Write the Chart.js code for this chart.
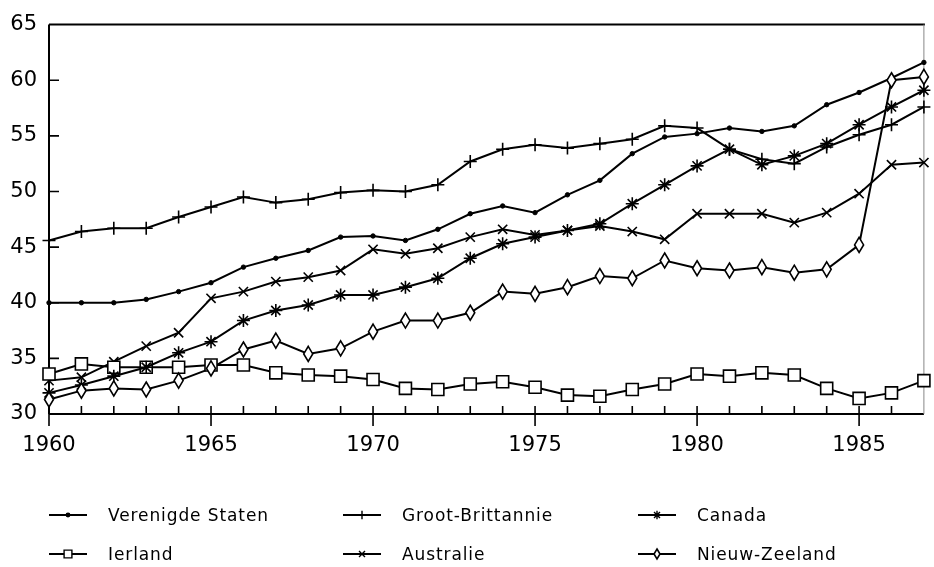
<!DOCTYPE html>
<html>
<head>
<meta charset="utf-8">
<script src="https://cdn.jsdelivr.net/npm/chart.js@4.4.1/dist/chart.umd.min.js"></script>
<style>
  html, body { margin: 0; padding: 0; background: #fff; }
  #wrap { width: 934px; height: 567px; }
</style>
</head>
<body>
<div id="wrap"><canvas id="chart"></canvas></div>
<script>
// jaren en reeksen
const years = [1960, 1961, 1962, 1963, 1964, 1965, 1966, 1967, 1968, 1969,
  1970, 1971, 1972, 1973, 1974, 1975, 1976, 1977, 1978, 1979,
  1980, 1981, 1982, 1983, 1984, 1985, 1986, 1987];

const verenigdeStaten = [40.0, 40.0, 40.0, 40.3, 41.0, 41.8, 43.2, 44.0, 44.7, 45.9,
  46.0, 45.6, 46.6, 48.0, 48.7, 48.1, 49.7, 51.0, 53.4, 54.9,
  55.2, 55.7, 55.4, 55.9, 57.8, 58.9, 60.2, 61.6];
const grootBrittannie = [45.6, 46.4, 46.7, 46.7, 47.7, 48.6, 49.5, 49.0, 49.3, 49.9,
  50.1, 50.0, 50.6, 52.7, 53.8, 54.2, 53.9, 54.3, 54.7, 55.9,
  55.7, 53.8, 52.9, 52.5, 54.0, 55.1, 56.0, 57.6];
const canada = [31.9, 32.6, 33.4, 34.2, 35.5, 36.5, 38.4, 39.3, 39.8, 40.7,
  40.7, 41.4, 42.2, 44.0, 45.3, 45.9, 46.5, 47.1, 48.9, 50.6,
  52.3, 53.8, 52.4, 53.2, 54.3, 56.0, 57.6, 59.1];
const ierland = [33.6, 34.5, 34.2, 34.2, 34.2, 34.4, 34.4, 33.7, 33.5, 33.4,
  33.1, 32.3, 32.2, 32.7, 32.9, 32.4, 31.7, 31.6, 32.2, 32.7,
  33.6, 33.4, 33.7, 33.5, 32.3, 31.4, 31.9, 33.0];
const australie = [33.0, 33.3, 34.7, 36.1, 37.3, 40.4, 41.0, 41.9, 42.3, 42.9,
  44.8, 44.4, 44.9, 45.9, 46.6, 46.1, 46.5, 46.9, 46.4, 45.7,
  48.0, 48.0, 48.0, 47.2, 48.1, 49.8, 52.4, 52.6];
const nieuwZeeland = [31.3, 32.1, 32.3, 32.2, 33.0, 34.1, 35.8, 36.6, 35.4, 35.9,
  37.4, 38.4, 38.4, 39.1, 41.0, 40.8, 41.4, 42.4, 42.2, 43.8,
  43.1, 42.9, 43.2, 42.7, 43.0, 45.2, 60.0, 60.3];

const xTicks = [1960, 1965, 1970, 1975, 1980, 1985];
const yTicks = [30, 35, 40, 45, 50, 55, 60, 65];

const FONT = 'DejaVu Sans, Verdana, sans-serif';

const pts = arr => arr.map((v, i) => ({ x: years[i], y: v }));

function series(label, values, style, radius, extra) {
  return Object.assign({
    label,
    data: pts(values),
    borderColor: '#000',
    backgroundColor: '#fff',
    borderWidth: 2,
    pointStyle: style,
    pointRadius: radius,
    pointBorderColor: '#000',
    pointBackgroundColor: '#fff',
    pointBorderWidth: 1.6,
    tension: 0,
    clip: false
  }, extra || {});
}

const datasets = [
  series('Verenigde Staten', verenigdeStaten, 'circle', 2.2, { pointBackgroundColor: '#000', pointBorderWidth: 1 }),
  series('Groot-Brittannie', grootBrittannie, 'cross', 6.5),
  series('Canada', canada, 'star', 6.5),
  series('Ierland', ierland, 'rect', 8.5),
  series('Australie', australie, 'crossRot', 6.5),
  // ruit wordt apart getekend (smal en hoog)
  series('Nieuw-Zeeland', nieuwZeeland, 'circle', 0, { diamond: true })
];

function drawDiamond(ctx, x, y, w, h) {
  ctx.beginPath();
  ctx.moveTo(x, y - h); ctx.lineTo(x + w, y); ctx.lineTo(x, y + h); ctx.lineTo(x - w, y);
  ctx.closePath();
  ctx.fillStyle = '#fff';
  ctx.fill();
  ctx.strokeStyle = '#000';
  ctx.lineWidth = 1.6;
  ctx.stroke();
}

// assen, kader en streepjes (naar binnen gericht)
const axisDecor = {
  id: 'axisDecor',
  beforeDatasetsDraw(chart) {
    const { ctx, chartArea: a, scales: { x, y } } = chart;
    ctx.save();
    ctx.strokeStyle = '#000';
    ctx.lineWidth = 2;
    ctx.beginPath();
    ctx.moveTo(a.left, a.top); ctx.lineTo(a.right + 1, a.top);
    ctx.moveTo(a.left, a.top); ctx.lineTo(a.left, a.bottom);
    ctx.moveTo(a.left, a.bottom); ctx.lineTo(a.right, a.bottom);
    ctx.stroke();
    ctx.strokeStyle = '#888';
    ctx.lineWidth = 1;
    ctx.beginPath();
    ctx.moveTo(a.right, a.top); ctx.lineTo(a.right, a.bottom);
    ctx.stroke();
    ctx.strokeStyle = '#000';
    ctx.lineWidth = 1.6;
    ctx.beginPath();
    years.forEach(yr => {
      const px = x.getPixelForValue(yr);
      if (xTicks.includes(yr)) {
        ctx.moveTo(px, a.bottom - 8); ctx.lineTo(px, a.bottom + 12);
      } else if (yr !== years[years.length - 1]) {
        ctx.moveTo(px, a.bottom - 8); ctx.lineTo(px, a.bottom);
      }
    });
    yTicks.slice(1, -1).forEach(v => {
      const py = y.getPixelForValue(v);
      ctx.moveTo(a.left, py); ctx.lineTo(a.left + 10, py);
    });
    ctx.stroke();
    ctx.restore();
  },
  afterDatasetsDraw(chart) {
    const { ctx } = chart;
    ctx.save();
    chart.data.datasets.forEach((ds, i) => {
      if (!ds.diamond) return;
      chart.getDatasetMeta(i).data.forEach(p => drawDiamond(ctx, p.x, p.y, 4.5, 7.5));
    });
    ctx.restore();
  }
};

// legenda in drie kolommen
const legendCols = [49, 343, 638];
const legendRows = [515, 554];
const gridLegend = {
  id: 'gridLegend',
  afterDraw(chart) {
    const { ctx } = chart;
    ctx.save();
    chart.data.datasets.forEach((ds, i) => {
      const lx = legendCols[i % 3];
      const ly = legendRows[Math.floor(i / 3)];
      ctx.strokeStyle = '#000';
      ctx.lineWidth = 1.8;
      ctx.beginPath();
      ctx.moveTo(lx, ly); ctx.lineTo(lx + 38, ly);
      ctx.stroke();
      if (ds.diamond) {
        drawDiamond(ctx, lx + 19, ly, 3, 5);
      } else {
        ctx.fillStyle = ds.pointBackgroundColor;
        ctx.strokeStyle = '#000';
        ctx.lineWidth = 1.4;
        Chart.helpers.drawPoint(ctx, {
          pointStyle: ds.pointStyle,
          radius: ds.pointRadius * (ds.pointStyle === 'circle' ? 0.8 : 0.65),
          rotation: 0,
          borderWidth: 1.4
        }, lx + 19, ly);
      }
      ctx.fillStyle = '#000';
      ctx.font = '17px ' + FONT;
      ctx.letterSpacing = '0.9px';
      ctx.textBaseline = 'middle';
      ctx.textAlign = 'left';
      ctx.fillText(ds.label, lx + 59, ly + 2);
    });
    ctx.restore();
  }
};

new Chart(document.getElementById('chart'), {
  type: 'line',
  data: { datasets },
  plugins: [axisDecor, gridLegend],
  options: {
    responsive: true,
    maintainAspectRatio: false,
    animation: false,
    events: [],
    layout: { padding: { top: 21, right: 1, left: 0, bottom: 0 } },
    plugins: { legend: { display: false }, tooltip: { enabled: false } },
    scales: {
      x: {
        type: 'linear',
        min: 1960,
        max: 1987,
        grid: { display: false, drawTicks: false },
        border: { display: false },
        afterFit(scale) { scale.height = 153; },
        afterBuildTicks(scale) { scale.ticks = xTicks.map(v => ({ value: v })); },
        ticks: {
          padding: 19,
          color: '#000',
          maxRotation: 0,
          autoSkip: false,
          font: { family: FONT, size: 21 },
          callback: v => String(v)
        }
      },
      y: {
        min: 30,
        max: 65,
        grid: { display: false, drawTicks: false },
        border: { display: false },
        afterFit(scale) { scale.width = 49; },
        afterBuildTicks(scale) { scale.ticks = yTicks.map(v => ({ value: v })); },
        ticks: {
          padding: 12,
          color: '#000',
          font: { family: FONT, size: 21 },
          callback: v => String(v)
        }
      }
    }
  }
});
</script>
</body>
</html>
